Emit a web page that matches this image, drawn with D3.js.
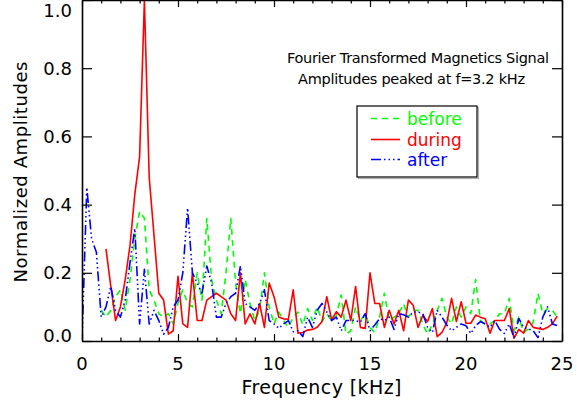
<!DOCTYPE html>
<html>
<head>
<meta charset="utf-8">
<script src="https://cdn.jsdelivr.net/npm/d3@7"></script>
<style>
  html, body { margin: 0; padding: 0; background: #ffffff; }
  svg { display: block; }
</style>
</head>
<body>
<div id="chart"></div>
<script>
// FFT bin spacing (kHz) and first bin of each series
const FREQ_STEP = 0.25
const beforeStart = 4
const duringStart = 5
const afterStart = 0

// "before" (green dashed)
const beforeVals = [
  0.09, 0.07, 0.09, 0.13, 0.15, 0.09, 0.18, 0.30, 0.38, 0.36,
  0.15, 0.12, 0.08, 0.07, 0.08, 0.05, 0.11, 0.15, 0.11, 0.10,
  0.20, 0.12, 0.36, 0.18, 0.12, 0.08, 0.20, 0.36, 0.17, 0.08,
  0.18, 0.11, 0.06, 0.09, 0.20, 0.10, 0.05, 0.085, 0.06, 0.04,
  0.07, 0.085, 0.047, 0.095, 0.06, 0.10, 0.057, 0.08, 0.06, 0.075,
  0.135, 0.02, 0.03, 0.10, 0.06, 0.08, 0.04, 0.025, 0.07, 0.14,
  0.06, 0.07, 0.08, 0.11, 0.07, 0.09, 0.09, 0.05, 0.02, 0.05,
  0.09, 0.125, 0.07, 0.05, 0.10, 0.07, 0.10, 0.08, 0.18, 0.06,
  0.05, 0.05, 0.06, 0.08, 0.08, 0.125, 0.03, 0.07, 0.025, 0.035,
  0.055, 0.14, 0.08, 0.095, 0.09, 0.07
]

// "during" (red solid)
const duringVals = [
  0.27, 0.16, 0.06, 0.10, 0.18, 0.28, 0.43, 0.54, 1.00, 0.48,
  0.31, 0.14, 0.12, 0.02, 0.03, 0.19, 0.05, 0.04, 0.20, 0.06,
  0.06, 0.12, 0.13, 0.14, 0.13, 0.12, 0.08, 0.06, 0.20, 0.05,
  0.08, 0.05, 0.11, 0.04, 0.17, 0.13, 0.07, 0.065, 0.064, 0.15,
  0.023, 0.025, 0.032, 0.034, 0.04, 0.057, 0.13, 0.062, 0.086, 0.07,
  0.12, 0.06, 0.16, 0.04, 0.037, 0.20, 0.11, 0.11, 0.04, 0.09,
  0.05, 0.09, 0.03, 0.12, 0.105, 0.04, 0.075, 0.057, 0.095, 0.013,
  0.025, 0.054, 0.125, 0.057, 0.115, 0.052, 0.052, 0.076, 0.07, 0.065,
  0.023, 0.06, 0.06, 0.06, 0.095, 0.008, 0.034, 0.023, 0.06, 0.04,
  0.037, 0.034, 0.04, 0.05, 0.073
]

// "after" (blue dash-dot-dot-dot)
const afterVals = [
  0.0, 0.45, 0.30, 0.26, 0.07, 0.10, 0.16, 0.09, 0.07, 0.12,
  0.23, 0.33, 0.05, 0.21, 0.05, 0.09, 0.06, 0.02, 0.04, 0.10,
  0.12, 0.20, 0.39, 0.20, 0.17, 0.14, 0.22, 0.17, 0.07, 0.07,
  0.11, 0.13, 0.14, 0.22, 0.11, 0.10, 0.09, 0.11, 0.15, 0.06,
  0.05, 0.037, 0.05, 0.06, 0.027, 0.03, 0.013, 0.07, 0.04, 0.09,
  0.11, 0.085, 0.06, 0.07, 0.03, 0.06, 0.06, 0.06, 0.055, 0.08,
  0.03, 0.047, 0.066, 0.06, 0.07, 0.034, 0.08, 0.077, 0.07, 0.085,
  0.085, 0.08, 0.04, 0.025, 0.09, 0.07, 0.047, 0.03, 0.04, 0.05,
  0.045, 0.022, 0.045, 0.057, 0.05, 0.04, 0.06, 0.034, 0.022, 0.05,
  0.01, 0.066, 0.04, 0.035, 0.03, 0.01, 0.07, 0.10, 0.05, 0.045
]

const xTicks = [0, 5, 10, 15, 20, 25]
const yTicks = [0.0, 0.2, 0.4, 0.6, 0.8, 1.0]
const titleLines = ['Fourier Transformed Magnetics Signal', 'Amplitudes peaked at f=3.2 kHz']
const legendLabels = ['before', 'during', 'after']

const W = 577, H = 406
const margin = { top: 0, right: 15, bottom: 65, left: 82 }
const FONT = '"DejaVu Sans", sans-serif'

const series = [
  { name: legendLabels[0], start: beforeStart, vals: beforeVals, color: '#00ff00', dash: '6,5' },
  { name: legendLabels[1], start: duringStart, vals: duringVals, color: '#ff0000', dash: null },
  { name: legendLabels[2], start: afterStart, vals: afterVals, color: '#0000ff', dash: '10,3,1.5,3,1.5,3,1.5,3' },
]

const x = d3.scaleLinear().domain([0, 25]).range([margin.left, W - margin.right])
const y = d3.scaleLinear().domain([0, 1]).range([H - margin.bottom, margin.top])

const svg = d3.select('#chart').append('svg')
  .attr('width', W).attr('height', H)

// Data lines
const line = d3.line()
  .x(d => x(d.f))
  .y(d => y(d.v))

svg.append('defs').append('clipPath').attr('id', 'plot-clip')
  .append('rect')
  .attr('x', x(0)).attr('y', y(1) - 1)
  .attr('width', x(25) - x(0)).attr('height', y(0) - y(1) + 1)

const linesG = svg.append('g').attr('clip-path', 'url(#plot-clip)')
series.forEach(s => {
  const pts = s.vals.map((v, i) => ({ f: (s.start + i) * FREQ_STEP, v }))
  linesG.append('path')
    .datum(pts)
    .attr('fill', 'none')
    .attr('stroke', s.color)
    .attr('stroke-width', 1.6)
    .attr('stroke-linejoin', 'round')
    .attr('stroke-dasharray', s.dash)
    .attr('d', line)
})

// Frame + ticks
function styleAxis(g) {
  g.select('.domain').attr('stroke', '#000').attr('stroke-width', 1.6)
  g.selectAll('.tick line').attr('stroke', '#000').attr('stroke-width', 1.2)
}

const minorX = d3.range(0, 26, 1)
const xBottom = svg.append('g')
  .attr('transform', `translate(0,${y(0)})`)
  .call(d3.axisBottom(x).tickValues(minorX).tickSize(-3.5).tickSizeOuter(0).tickFormat(''))
  .call(styleAxis)
xBottom.selectAll('.tick line').filter(d => d % 5 === 0).attr('y2', -7)

const xTop = svg.append('g')
  .attr('transform', `translate(0,${y(1)})`)
  .call(d3.axisTop(x).tickValues(minorX).tickSize(-3.5).tickSizeOuter(0).tickFormat(''))
  .call(styleAxis)
xTop.selectAll('.tick line').filter(d => d % 5 === 0).attr('y2', 7)

svg.append('g')
  .attr('transform', `translate(${x(0)},0)`)
  .call(d3.axisLeft(y).tickValues(yTicks).tickSize(-10).tickSizeOuter(0).tickFormat(''))
  .call(styleAxis)

svg.append('g')
  .attr('transform', `translate(${x(25)},0)`)
  .call(d3.axisRight(y).tickValues(yTicks).tickSize(-10).tickSizeOuter(0).tickFormat(''))
  .call(styleAxis)

// Tick labels
svg.append('g').selectAll('text')
  .data(xTicks)
  .join('text')
  .attr('x', d => x(d))
  .attr('y', 370)
  .attr('text-anchor', 'middle')
  .attr('font-family', FONT).attr('font-size', 18)
  .attr('fill', '#000')
  .text(d => d)

svg.append('g').selectAll('text')
  .data(yTicks)
  .join('text')
  .attr('x', 72)
  .attr('y', d => Math.min(Math.max(y(d), 10.5), 335.5))
  .attr('dy', '0.36em')
  .attr('text-anchor', 'end')
  .attr('font-family', FONT).attr('font-size', 18)
  .attr('fill', '#000')
  .text(d => d.toFixed(1))

// Axis titles
svg.append('text')
  .attr('x', 321.5).attr('y', 394)
  .attr('text-anchor', 'middle')
  .attr('font-family', FONT).attr('font-size', 19)
  .attr('textLength', 160).attr('lengthAdjust', 'spacing')
  .attr('fill', '#000')
  .text('Frequency [kHz]')

svg.append('text')
  .attr('transform', `translate(27,172) rotate(-90)`)
  .attr('text-anchor', 'middle')
  .attr('font-family', FONT).attr('font-size', 18)
  .attr('textLength', 221).attr('lengthAdjust', 'spacing')
  .attr('fill', '#000')
  .text('Normalized Amplitudes')

// Annotation
svg.append('text')
  .attr('x', 418).attr('y', 62.5)
  .attr('text-anchor', 'middle')
  .attr('font-family', FONT).attr('font-size', 14.5)
  .attr('textLength', 262).attr('lengthAdjust', 'spacing')
  .attr('fill', '#000')
  .text(titleLines[0])

svg.append('text')
  .attr('x', 411.5).attr('y', 83.5)
  .attr('text-anchor', 'middle')
  .attr('font-family', FONT).attr('font-size', 14.5)
  .attr('textLength', 227).attr('lengthAdjust', 'spacing')
  .attr('fill', '#000')
  .text(titleLines[1])

// Legend
const legend = svg.append('g')
legend.append('rect')
  .attr('x', 358.5).attr('y', 107.5).attr('width', 120).attr('height', 71)
  .attr('fill', 'none').attr('stroke', '#b0b0b0').attr('stroke-width', 1.2)
legend.append('rect')
  .attr('x', 357).attr('y', 106).attr('width', 120).attr('height', 71)
  .attr('fill', '#fff').attr('stroke', '#000').attr('stroke-width', 1.2)

const legendRows = [118.5, 139.5, 159.5]
series.forEach((s, i) => {
  legend.append('line')
    .attr('x1', 371).attr('x2', 400)
    .attr('y1', legendRows[i]).attr('y2', legendRows[i])
    .attr('stroke', s.color).attr('stroke-width', 1.6)
    .attr('stroke-dasharray', s.dash)
  legend.append('text')
    .attr('x', 407).attr('y', legendRows[i])
    .attr('dy', '0.36em')
    .attr('font-family', FONT).attr('font-size', 17)
    .attr('fill', s.color)
    .text(s.name)
})
</script>
</body>
</html>
